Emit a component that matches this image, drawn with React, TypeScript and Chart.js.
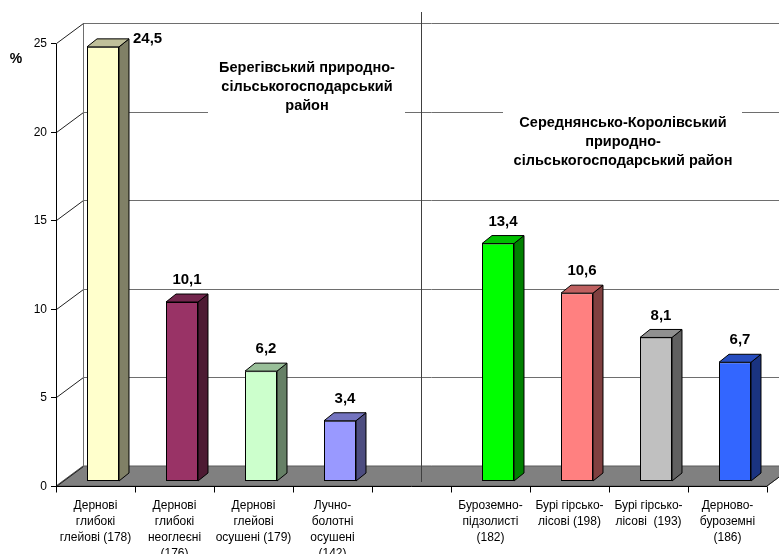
import React, { useEffect, useRef } from "react";
import { Chart, registerables } from "chart.js";

Chart.register(...registerables);

// Soil types (with profile numbers); the empty slot separates the two districts
const categories: string[][] = [
  ["Дернові", "глибокі", "глейові (178)"],
  ["Дернові", "глибокі", "неоглеєні", "(176)"],
  ["Дернові", "глейові", "осушені (179)"],
  ["Лучно-", "болотні", "осушені", "(142)"],
  [""],
  ["Буроземно-", "підзолисті", "(182)"],
  ["Бурі гірсько-", "лісові (198)"],
  ["Бурі гірсько-", "лісові  (193)"],
  ["Дерново-", "буроземні", "(186)"],
];

// Share, %
const shares: (number | null)[] = [24.5, 10.1, 6.2, 3.4, null, 13.4, 10.6, 8.1, 6.7];

const yTicks: number[] = [0, 5, 10, 15, 20, 25];

const leftDistrict: string[] = ["Берегівський природно-", "сільськогосподарський", "район"];
const rightDistrict: string[] = ["Середнянсько-Королівський", "природно-", "сільськогосподарський район"];

// Column colours: front face, right side, top
const faceColors = ["#FFFFCC", "#993366", "#CCFFCC", "#9999FF", "#FFFFFF", "#00FF00", "#FF8080", "#C0C0C0", "#3366FF"];
const sideColors = ["#808066", "#4D1A33", "#668066", "#4D4D80", "#808080", "#008000", "#804040", "#606060", "#1A3380"];
const topColors = ["#C0C09A", "#73264D", "#99BF99", "#7373BF", "#C0C0C0", "#00BF00", "#BF6060", "#909090", "#264DBF"];

const FONT = "'Liberation Sans', Arial, Helvetica, sans-serif";

// depth of the chart box (walls and floor)
const WALL_DX = 27;
const WALL_DY = -20;
// front plane of the columns inside the box
const PLANE_DX = 7.5;
const PLANE_DY = -5;
// depth of each column
const BAR_DX = 10;
const BAR_DY = -8;

const GRID = "#6e6e6e";

type Note = { lines: string[]; cx: number; cy: number; box: [number, number, number, number] };
const notes: Note[] = [
  { lines: leftDistrict, cx: 307, cy: 87, box: [208, 48, 197, 74] },
  { lines: rightDistrict, cx: 623, cy: 142, box: [503, 104, 239, 76] },
];

function line(ctx: CanvasRenderingContext2D, x1: number, y1: number, x2: number, y2: number) {
  ctx.beginPath();
  ctx.moveTo(x1, y1);
  ctx.lineTo(x2, y2);
  ctx.stroke();
}

const crisp = (v: number) => Math.round(v) + 0.5;

const pseudo3d = {
  id: "pseudo3d",
  beforeDatasetsDraw(chart: any) {
    const { ctx, chartArea: a, scales } = chart;
    const x = scales.x;
    const y = scales.y;
    const y0 = y.getPixelForValue(0);
    const yMax = y.getPixelForValue(y.max);
    const L = a.left;
    const R = a.right;

    ctx.save();
    ctx.lineWidth = 1;

    // floor
    ctx.beginPath();
    ctx.moveTo(L, y0);
    ctx.lineTo(L + WALL_DX, y0 + WALL_DY);
    ctx.lineTo(R + WALL_DX, y0 + WALL_DY);
    ctx.lineTo(R, y0);
    ctx.closePath();
    ctx.fillStyle = "#808080";
    ctx.fill();
    ctx.strokeStyle = "#5a5a5a";
    ctx.stroke();

    // back wall gridlines and the side wall lines
    for (const v of yTicks) {
      const py = crisp(y.getPixelForValue(v));
      if (v !== 0) {
        ctx.strokeStyle = GRID;
        line(ctx, L + WALL_DX, py + WALL_DY, R + WALL_DX + 40, py + WALL_DY);
      }
      ctx.strokeStyle = "#202020";
      line(ctx, L + 0.5, py, L + WALL_DX + 0.5, py + WALL_DY);
    }
    ctx.strokeStyle = GRID;
    line(ctx, L + WALL_DX + 0.5, crisp(yMax) + WALL_DY, L + WALL_DX + 0.5, crisp(y0) + WALL_DY);
    ctx.strokeStyle = "#202020";
    line(ctx, R, y0, R + WALL_DX, y0 + WALL_DY);

    // district captions
    ctx.textAlign = "center";
    ctx.textBaseline = "middle";
    ctx.font = `bold 14.5px ${FONT}`;
    for (const n of notes) {
      const [bx, by, bw, bh] = n.box;
      ctx.fillStyle = "#ffffff";
      ctx.fillRect(bx, by, bw, bh);
      ctx.fillStyle = "#000000";
      n.lines.forEach((t, i) => {
        ctx.fillText(t, n.cx, n.cy + (i - (n.lines.length - 1) / 2) * 19);
      });
    }

    // divider between the two districts
    const gap = categories.findIndex((c) => c.join("") === "");
    const dx = crisp(x.getPixelForValue(gap) + 9);
    ctx.strokeStyle = "#404040";
    line(ctx, dx, yMax + WALL_DY - 11, dx, y0 - 4);

    // front value axis
    ctx.strokeStyle = "#000000";
    line(ctx, L + 0.5, crisp(yMax), L + 0.5, crisp(y0));
    ctx.font = `12px ${FONT}`;
    ctx.textAlign = "right";
    ctx.fillStyle = "#000000";
    for (const v of yTicks) {
      const py = crisp(y.getPixelForValue(v));
      line(ctx, L - 5, py, L, py);
      ctx.fillText(String(v), L - 9, py);
    }
    ctx.font = `bold 14px ${FONT}`;
    ctx.textAlign = "center";
    ctx.fillText("%", 16, yMax + 16);

    // front category axis
    const band = (R - L) / categories.length;
    line(ctx, L, crisp(y0), R, crisp(y0));
    for (let i = 0; i <= categories.length; i++) {
      const bx = crisp(x.getPixelForValue(0) - band / 2 + i * band);
      line(ctx, bx, crisp(y0), bx, crisp(y0) + 6);
    }
    ctx.font = `12px ${FONT}`;
    categories.forEach((lines, i) => {
      const cx = x.getPixelForValue(i);
      lines.forEach((t, k) => ctx.fillText(t, cx, y0 + 20 + k * 16));
    });

    ctx.restore();
  },
  beforeDatasetDraw(chart: any) {
    chart.ctx.save();
    chart.ctx.translate(PLANE_DX, PLANE_DY);
  },
  afterDatasetDraw(chart: any, args: any) {
    const { ctx } = chart;
    const meta = args.meta;
    meta.data.forEach((el: any, i: number) => {
      if (shares[i] == null) return;
      const { x, y, base, width } = el.getProps(["x", "y", "base", "width"], true);
      const l = x - width / 2;
      const r = x + width / 2;
      ctx.lineWidth = 1;
      ctx.strokeStyle = "#000000";
      ctx.lineJoin = "round";
      // right side
      ctx.beginPath();
      ctx.moveTo(r, y);
      ctx.lineTo(r + BAR_DX, y + BAR_DY);
      ctx.lineTo(r + BAR_DX, base + BAR_DY);
      ctx.lineTo(r, base);
      ctx.closePath();
      ctx.fillStyle = sideColors[i];
      ctx.fill();
      ctx.stroke();
      // top
      ctx.beginPath();
      ctx.moveTo(l, y);
      ctx.lineTo(l + BAR_DX, y + BAR_DY);
      ctx.lineTo(r + BAR_DX, y + BAR_DY);
      ctx.lineTo(r, y);
      ctx.closePath();
      ctx.fillStyle = topColors[i];
      ctx.fill();
      ctx.stroke();
    });
    ctx.restore();
  },
  afterDatasetsDraw(chart: any) {
    const { ctx, scales } = chart;
    const wallTop = scales.y.getPixelForValue(scales.y.max) + WALL_DY;
    const meta = chart.getDatasetMeta(0);
    ctx.save();
    ctx.font = `bold 15px ${FONT}`;
    ctx.fillStyle = "#000000";
    ctx.textBaseline = "middle";
    meta.data.forEach((el: any, i: number) => {
      const v = shares[i];
      if (v == null) return;
      const { x, y, width } = el.getProps(["x", "y", "width"], true);
      const text = v.toFixed(1).replace(".", ",");
      const topY = y + PLANE_DY + BAR_DY;
      const cy = topY - 14;
      if (cy - 9 < wallTop) {
        // no room above the column: put the value beside its top
        ctx.textAlign = "left";
        ctx.fillText(text, x + PLANE_DX + width / 2 + BAR_DX + 4, topY);
      } else {
        ctx.textAlign = "center";
        ctx.fillText(text, x + PLANE_DX + BAR_DX / 2, cy);
      }
    });
    ctx.restore();
  },
};

export default function App() {
  const ref = useRef<HTMLCanvasElement>(null);

  useEffect(() => {
    if (!ref.current) return;
    const chart = new Chart(ref.current, {
      type: "bar",
      data: {
        labels: categories,
        datasets: [
          {
            data: shares,
            backgroundColor: faceColors,
            borderColor: "#000000",
            borderWidth: 1,
            borderSkipped: false,
            barPercentage: 0.405,
            categoryPercentage: 1,
            clip: false as any,
          },
        ],
      },
      options: {
        responsive: false,
        animation: false,
        devicePixelRatio: 1,
        layout: { padding: { left: 56, right: 12, top: 43, bottom: 68 } },
        scales: {
          x: { display: false, offset: true },
          y: { display: false, min: 0, max: 25 },
        },
        plugins: {
          legend: { display: false },
          tooltip: { enabled: false },
        },
      },
      plugins: [pseudo3d],
    });
    return () => chart.destroy();
  }, []);

  return (
    <div style={{ position: "fixed", left: 0, top: 0, width: 779, height: 554, background: "#ffffff" }}>
      <canvas ref={ref} width={779} height={554} style={{ display: "block" }} />
    </div>
  );
}
